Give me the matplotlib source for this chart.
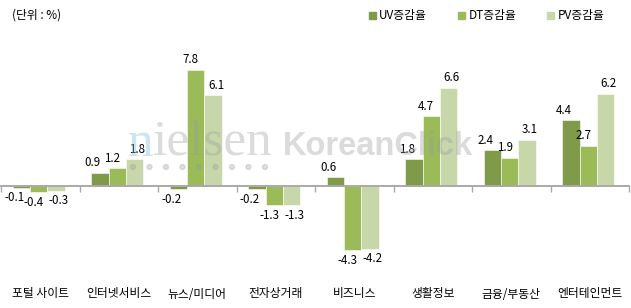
import matplotlib
matplotlib.use('Agg')
import matplotlib.pyplot as plt
import numpy as np
from matplotlib.patches import Patch, Ellipse
import matplotlib.transforms as mtransforms

plt.rcParams['font.family'] = ['Noto Sans CJK KR', 'DejaVu Sans']

# data
categories = ['포털 사이트', '인터넷서비스', '뉴스/미디어', '전자상거래', '비즈니스', '생활정보', '금융/부동산', '엔터테인먼트']
series_names = ['UV증감율', 'DT증감율', 'PV증감율']
uv = [-0.1, 0.9, -0.2, -0.2, 0.6, 1.8, 2.4, 4.4]
dt = [-0.4, 1.2, 7.8, -1.3, -4.3, 4.7, 1.9, 2.7]
pv = [-0.3, 1.8, 6.1, -1.3, -4.2, 6.6, 3.1, 6.2]
colors = ['#7f9a48', '#9bbb59', '#c8d7aa']

fig = plt.figure(figsize=(6.31, 3.08), dpi=100)
ax = fig.add_axes([1 / 631, 1 - 268 / 308, 628 / 631, (268 - 44.5) / 308])
ax.patch.set_alpha(0)

x = np.arange(len(categories))
w = 0.22
label_dx = [-7, -5, 3]  # px shift of value labels, like the original
for i, (vals, name, c) in enumerate(zip([uv, dt, pv], series_names, colors)):
    pos = x + (i - 1) * w - 0.02
    ax.bar(pos, vals, width=w, color=c, edgecolor='white', linewidth=0.4, label=name, zorder=3)
    for xp, v in zip(pos, vals):
        dy = 10 if v >= 0 else -10
        ax.annotate(f'{v:.1f}', (xp, v), xytext=(label_dx[i] * 0.72, dy * 0.72),
                    textcoords='offset points', ha='center', va='center',
                    fontsize=8.3, color='black', zorder=5)

ax.set_xlim(-0.5, len(categories) - 0.5)
ax.set_ylim(-5.5, 9.5)

for s in ['top', 'right', 'left']:
    ax.spines[s].set_visible(False)
ax.spines['bottom'].set_position(('data', 0))
ax.spines['bottom'].set_color('#a9a9a9')
ax.spines['bottom'].set_linewidth(1.4)
ax.spines['bottom'].set_zorder(4)
ax.set_yticks([])
ax.set_xticks(np.arange(len(categories) + 1) - 0.5)
ax.set_xticklabels([])
ax.tick_params(axis='x', direction='out', length=4, width=1, color='#a9a9a9')

# category labels at the bottom of the plot area
trans = mtransforms.blended_transform_factory(ax.transData, fig.transFigure)
for xi, cat in zip(x, categories):
    ax.text(xi, 1 - 294 / 308, cat, transform=trans, ha='center', va='center', fontsize=8.5)

# watermark, semi-transparent over the bars
fig.text(128 / 631, 1 - 156 / 308, 'n', family='Liberation Serif', fontsize=37,
         color='#7fbfe0', alpha=0.4, va='baseline', ha='left', zorder=10)
fig.text(153 / 631, 1 - 156 / 308, 'ielsen', family='Liberation Serif', fontsize=37,
         color='#999999', alpha=0.35, va='baseline', ha='left', zorder=10)
fig.text(283 / 631, 1 - 155 / 308, 'KoreanClick', family='Liberation Sans', fontweight='bold',
         fontsize=23.5, color='#999999', alpha=0.35, va='baseline', ha='left', zorder=10)
for k in range(9):
    fig.add_artist(Ellipse(((133 + k * 16.5) / 631, 1 - 167 / 308), 5 / 631, 5 / 308,
                           transform=fig.transFigure, color='#999999', alpha=0.3, zorder=10))

# unit text
fig.text(12 / 631, 1 - 15 / 308, '(단위 : %)', fontsize=8.5, va='center', ha='left')

# legend
handles = [Patch(color=c) for c in colors]
fig.legend(handles, series_names, loc='center left', bbox_to_anchor=(364 / 631, 1 - 16 / 308),
           ncol=3, frameon=False, fontsize=8.5, handlelength=0.6, handleheight=0.6,
           handletextpad=0.3, columnspacing=2.6, borderaxespad=0)

fig.savefig('out.png', dpi=100)
